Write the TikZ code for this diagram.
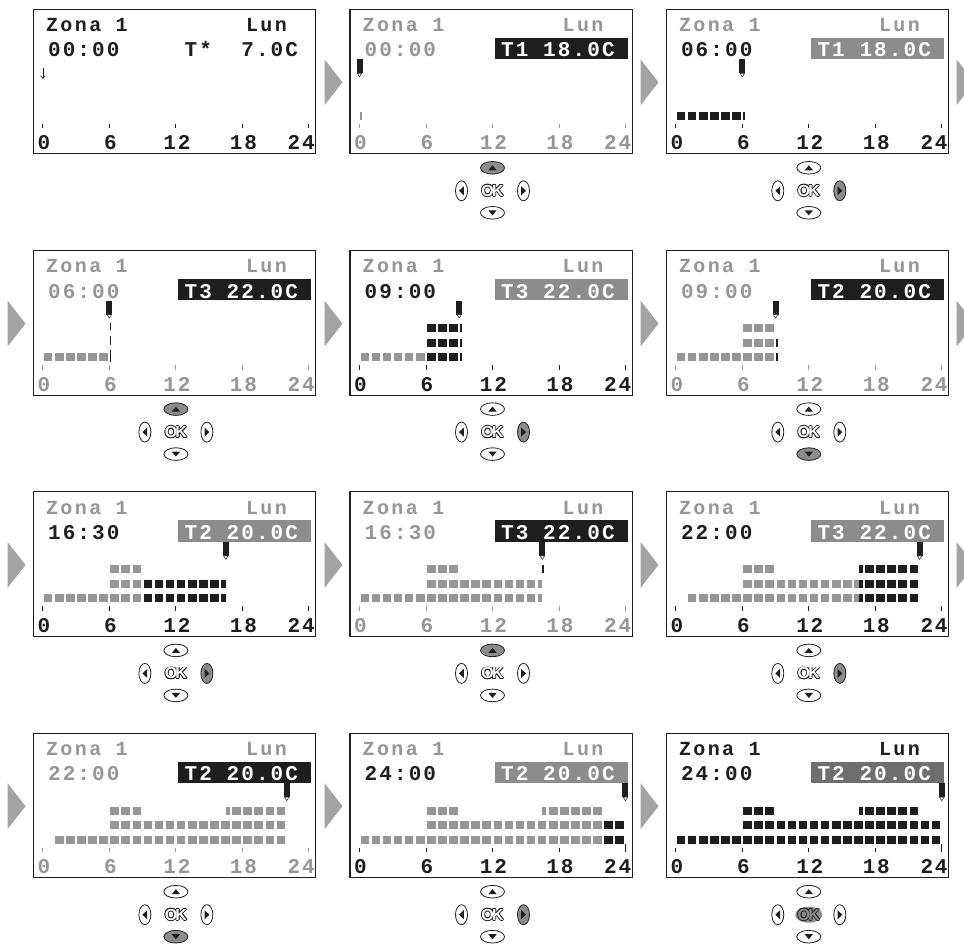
\documentclass[tikz,border=0pt]{standalone}
\usepackage{fontspec}
\usetikzlibrary{arrows.meta}
\newfontfamily\lcdA{Liberation Mono}[LetterSpace=12]
\newfontfamily\lcdB{Liberation Mono}[LetterSpace=10]
\newfontfamily\lcdC{Liberation Mono}[LetterSpace=9]
\newfontfamily\okfont{Liberation Sans}
\definecolor{lcdgray}{HTML}{969696}
\definecolor{lcdblk}{HTML}{1E1E1E}
\definecolor{boxgray}{HTML}{8C8C8C}
\definecolor{boxdark}{HTML}{6E6E6E}
\definecolor{arrowgray}{HTML}{A3A3A3}
\definecolor{btngray}{HTML}{8C8C8C}
\tikzset{
  panelbox/.style={draw=lcdblk, line width=1.1pt, fill=white},
  fA/.style={inner sep=0pt, anchor=base west, font=\lcdA\bfseries\fontsize{20}{20}\selectfont},
  fB/.style={inner sep=0pt, anchor=base west, font=\lcdB\bfseries\fontsize{21}{21}\selectfont},
  fC/.style={inner sep=0pt, anchor=base west, font=\lcdC\bfseries\fontsize{21}{21}\selectfont},
  oktxt/.style={inner sep=0pt, anchor=center, font=\okfont\bfseries\fontsize{16}{16}\selectfont},
  btn/.style={draw=lcdblk, line width=0.8pt},
  garrow/.style={fill=arrowgray}
}
\def\X#1{9.5+11.083*(#1)}
\def\rA{102.5}\def\rB{88}\def\rC{73.5}
\newcommand\hdr[5]{%
  \node[fA, text=#1] (zona) at (12.5,22.3) {Zona 1};
  \node[fA, text=#1] (day) at (212.5,22.3) {Lun};
  \node[fB, text=#2] (time) at (14.5,47.7) {#3};
  \fill[#4] (145,28.3) rectangle (278,49.7);
  \node[fB, text=white] (temp) at (151,47.5) {#5};
}
\newcommand\axis[1]{%
  \foreach \h in {0,6,12,18,24} \draw[#1, line width=1pt] ({\X{\h}},114.5) -- ({\X{\h}},119);
  \foreach \h in {0,6,12,18} \node[fC, text=#1, anchor=base] at ({\X{\h}+1},140.5) {\h};
  \node[fC, text=#1, anchor=base east] (l24) at (281.5,140.5) {24};
}
\newcommand\blocks[4]{\foreach \i in {#2,...,#3}{\fill[#4] ({\X{\i}+1},#1) rectangle ({\X{\i+1}-1.5},{#1+8});}}
\newcommand\halfL[3]{\fill[#3] ({\X{#2}+1},#1) rectangle ({\X{#2+0.5}},{#1+8});}
\newcommand\halfR[3]{\fill[#3] ({\X{#2+0.5}},#1) rectangle ({\X{#2+1}-1.5},{#1+8});}
\newcommand\thinbar[3]{\fill[#3] ({\X{#2}+0.8},#1) rectangle ++(1.7,8);}
\newcommand\cur[1]{%
  \fill[lcdblk] ({\X{#1}-3},50) rectangle ({\X{#1}+3},64);
  \draw[lcdblk, fill=white, line width=0.5pt] ({\X{#1}-2.2},64) -- ({\X{#1}+2.2},64) -- ({\X{#1}},67.5) -- cycle;
}
\newcommand\btns[5]{%
  \draw[btn, fill=#1] (142.5,158.5) ellipse [x radius=12pt, y radius=6.3pt];
  \fill[lcdblk] (138.3,161) -- (146.7,161) -- (142.5,156) -- cycle;
  \draw[btn, fill=#2] (111.5,181.5) ellipse [x radius=6pt, y radius=10pt];
  \fill[lcdblk] (109,181.5) -- (113.8,177) -- (113.8,186) -- cycle;
  \draw[btn, fill=#3] (173.5,181.5) ellipse [x radius=6pt, y radius=10pt];
  \fill[lcdblk] (176,181.5) -- (171.2,177) -- (171.2,186) -- cycle;
  \draw[btn, fill=#4] (142.5,203.5) ellipse [x radius=12pt, y radius=6.3pt];
  \fill[lcdblk] (138.3,201) -- (146.7,201) -- (142.5,206) -- cycle;
  \ifx#5w\else\fill[btngray] (142.5,181.5) ellipse [x radius=13.5pt, y radius=8pt];\fi
  \foreach \dx/\dy in {-0.8/0,0.8/0,0/-0.8,0/0.8,-0.6/-0.6,0.6/0.6,-0.6/0.6,0.6/-0.6}
    \node[oktxt, text=lcdblk] at (142.5+\dx,181.5+\dy) {O\kern-1.8ptK};
  \ifx#5w\node[oktxt, text=white] (ok) at (142.5,181.5) {O\kern-1.8ptK};
  \else\node[oktxt, text=btngray] (ok) at (142.5,181.5) {O\kern-1.8ptK};\fi
}
\begin{document}
\begin{tikzpicture}[x=1pt,y=-1pt]
\useasboundingbox (0,0) rectangle (964,944);
\fill[white] (0,0) rectangle (964,944);
% gray arrows between screens
\begin{scope}
\clip (0,0) rectangle (964,944);
\foreach \ty/\xs in {9.3/{324.5,640.5,956.5}, 250.6/{7.5,324.5,640.5,956.5}, 491.9/{7.5,324.5,640.5,956.5}, 733.2/{7.5,324.5,640.5}}{
  \foreach \ax in \xs {\fill[garrow] (\ax,\ty+50) -- ++(0,46) -- ++(18,-23) -- cycle;}
}
\end{scope}
% ---------- Panel 1
\begin{scope}[shift={(33.4,9.3)}, name prefix=p1-]
\draw[panelbox] (0,0) rectangle (282.5,144.5);
\node[fA, text=lcdblk] (zona) at (12.5,22.3) {Zona 1};
\node[fA, text=lcdblk] (day) at (212.5,22.3) {Lun};
\node[fB, text=lcdblk] (time) at (14.5,47.7) {00:00};
\node[fB, text=lcdblk] (temp) at (151,47.7) {T*~~7.0C};
\draw[lcdblk, line width=0.7pt, -{Straight Barb[length=2.5pt,width=4.5pt]}] (9.5,59) -- (9.5,69.5);
\axis{lcdblk}
\end{scope}
% ---------- Panel 2
\begin{scope}[shift={(350,9.3)}, name prefix=p2-]
\draw[panelbox] (0,0) rectangle (282.5,144.5);
\hdr{lcdgray}{lcdgray}{00:00}{lcdblk}{T1 18.0C}
\axis{lcdgray}
\thinbar{\rA}{0}{lcdgray}
\cur{0}
\btns{btngray}{white}{white}{white}{w}
\end{scope}
% ---------- Panel 3
\begin{scope}[shift={(666.3,9.3)}, name prefix=p3-]
\draw[panelbox] (0,0) rectangle (282.5,144.5);
\hdr{lcdgray}{lcdblk}{06:00}{boxgray}{T1 18.0C}
\axis{lcdblk}
\blocks{\rA}{0}{5}{lcdblk}
\thinbar{\rA}{6}{lcdblk}
\cur{6}
\btns{white}{white}{btngray}{white}{w}
\end{scope}
% ---------- Panel 4
\begin{scope}[shift={(33.4,250.6)}, name prefix=p4-]
\draw[panelbox] (0,0) rectangle (282.5,144.5);
\hdr{lcdgray}{lcdgray}{06:00}{lcdblk}{T3 22.0C}
\axis{lcdgray}
\blocks{\rA}{0}{5}{lcdgray}
\fill[lcdblk] ({\X{6}+0.3},72.6) rectangle ++(1.7,6.7);
\fill[lcdblk] ({\X{6}+0.3},85.3) rectangle ++(1.7,9);
\fill[lcdblk] ({\X{6}+0.3},99.3) rectangle ++(1.7,11.7);
\cur{6}
\btns{btngray}{white}{white}{white}{w}
\end{scope}
% ---------- Panel 5
\begin{scope}[shift={(350,250.6)}, name prefix=p5-]
\draw[panelbox] (0,0) rectangle (282.5,144.5);
\hdr{lcdgray}{lcdblk}{09:00}{boxgray}{T3 22.0C}
\axis{lcdblk}
\blocks{\rA}{0}{5}{lcdgray}
\blocks{\rA}{6}{8}{lcdblk}\blocks{\rB}{6}{8}{lcdblk}\blocks{\rC}{6}{8}{lcdblk}
\thinbar{\rA}{9}{lcdblk}\thinbar{\rB}{9}{lcdblk}\thinbar{\rC}{9}{lcdblk}
\cur{9}
\btns{white}{white}{btngray}{white}{w}
\end{scope}
% ---------- Panel 6
\begin{scope}[shift={(666.3,250.6)}, name prefix=p6-]
\draw[panelbox] (0,0) rectangle (282.5,144.5);
\hdr{lcdgray}{lcdgray}{09:00}{lcdblk}{T2 20.0C}
\axis{lcdgray}
\blocks{\rA}{0}{8}{lcdgray}\blocks{\rB}{6}{8}{lcdgray}\blocks{\rC}{6}{8}{lcdgray}
\thinbar{\rA}{9}{lcdblk}\thinbar{\rB}{9}{lcdblk}
\cur{9}
\btns{white}{white}{white}{btngray}{w}
\end{scope}
% ---------- Panel 7
\begin{scope}[shift={(33.4,491.9)}, name prefix=p7-]
\draw[panelbox] (0,0) rectangle (282.5,144.5);
\hdr{lcdgray}{lcdblk}{16:30}{boxgray}{T2 20.0C}
\axis{lcdblk}
\blocks{\rA}{0}{8}{lcdgray}\blocks{\rA}{9}{15}{lcdblk}\halfL{\rA}{16}{lcdblk}
\blocks{\rB}{6}{8}{lcdgray}\blocks{\rB}{9}{15}{lcdblk}\halfL{\rB}{16}{lcdblk}
\blocks{\rC}{6}{8}{lcdgray}
\cur{16.5}
\btns{white}{white}{btngray}{white}{w}
\end{scope}
% ---------- Panel 8
\begin{scope}[shift={(350,491.9)}, name prefix=p8-]
\draw[panelbox] (0,0) rectangle (282.5,144.5);
\hdr{lcdgray}{lcdgray}{16:30}{lcdblk}{T3 22.0C}
\axis{lcdgray}
\blocks{\rA}{0}{15}{lcdgray}\halfL{\rA}{16}{lcdgray}
\blocks{\rB}{6}{15}{lcdgray}\halfL{\rB}{16}{lcdgray}
\blocks{\rC}{6}{8}{lcdgray}
\thinbar{\rC}{16.4}{lcdblk}
\cur{16.5}
\btns{btngray}{white}{white}{white}{w}
\end{scope}
% ---------- Panel 9
\begin{scope}[shift={(666.3,491.9)}, name prefix=p9-]
\draw[panelbox] (0,0) rectangle (282.5,144.5);
\hdr{lcdgray}{lcdblk}{22:00}{boxgray}{T3 22.0C}
\axis{lcdblk}
\blocks{\rA}{1}{15}{lcdgray}\halfL{\rA}{16}{lcdgray}\halfR{\rA}{16}{lcdblk}\blocks{\rA}{17}{21}{lcdblk}
\blocks{\rB}{6}{15}{lcdgray}\halfL{\rB}{16}{lcdgray}\halfR{\rB}{16}{lcdblk}\blocks{\rB}{17}{21}{lcdblk}
\blocks{\rC}{6}{8}{lcdgray}\halfR{\rC}{16}{lcdblk}\blocks{\rC}{17}{21}{lcdblk}
\cur{22}
\btns{white}{white}{btngray}{white}{w}
\end{scope}
% ---------- Panel 10
\begin{scope}[shift={(33.4,733.2)}, name prefix=p10-]
\draw[panelbox] (0,0) rectangle (282.5,144.5);
\hdr{lcdgray}{lcdgray}{22:00}{lcdblk}{T2 20.0C}
\axis{lcdgray}
\blocks{\rA}{1}{21}{lcdgray}
\blocks{\rB}{6}{21}{lcdgray}
\blocks{\rC}{6}{8}{lcdgray}\halfR{\rC}{16}{lcdgray}\blocks{\rC}{17}{21}{lcdgray}
\cur{22}
\btns{white}{white}{white}{btngray}{w}
\end{scope}
% ---------- Panel 11
\begin{scope}[shift={(350,733.2)}, name prefix=p11-]
\draw[panelbox] (0,0) rectangle (282.5,144.5);
\hdr{lcdgray}{lcdblk}{24:00}{boxgray}{T2 20.0C}
\axis{lcdblk}
\draw[lcdblk, line width=1pt] ({\X{24}},111) -- ({\X{24}},119);
\blocks{\rA}{0}{21}{lcdgray}\blocks{\rA}{22}{23}{lcdblk}
\blocks{\rB}{6}{21}{lcdgray}\blocks{\rB}{22}{23}{lcdblk}
\blocks{\rC}{6}{8}{lcdgray}\halfR{\rC}{16}{lcdgray}\blocks{\rC}{17}{21}{lcdgray}
\cur{24}
\btns{white}{white}{btngray}{white}{w}
\end{scope}
% ---------- Panel 12
\begin{scope}[shift={(666.3,733.2)}, name prefix=p12-]
\draw[panelbox] (0,0) rectangle (282.5,144.5);
\hdr{lcdblk}{lcdblk}{24:00}{boxdark}{T2 20.0C}
\axis{lcdblk}
\draw[lcdblk, line width=1pt] ({\X{24}},111) -- ({\X{24}},119);
\blocks{\rA}{0}{23}{lcdblk}
\blocks{\rB}{6}{23}{lcdblk}
\blocks{\rC}{6}{8}{lcdblk}\halfR{\rC}{16}{lcdblk}\blocks{\rC}{17}{21}{lcdblk}
\cur{24}
\btns{white}{white}{white}{white}{g}
\end{scope}
\end{tikzpicture}
\end{document}
